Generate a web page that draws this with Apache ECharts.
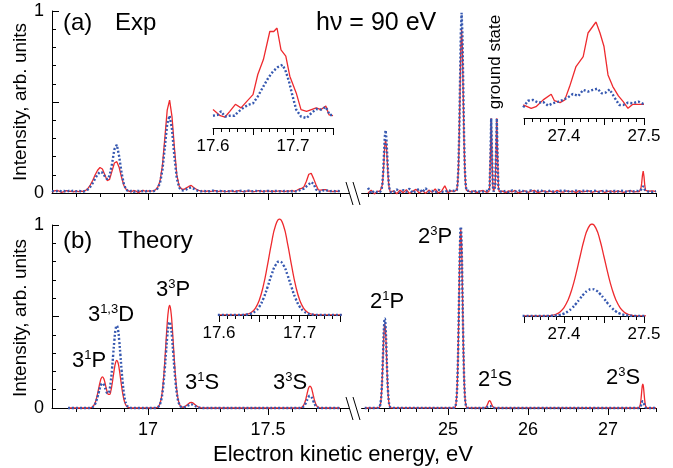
<!DOCTYPE html>
<html>
<head>
<meta charset="utf-8">
<script src="https://cdn.jsdelivr.net/npm/echarts@6.0.0/dist/echarts.min.js"></script>
<style>
html, body { margin: 0; padding: 0; background: #fff; }
#chart { width: 673px; height: 468px; }
</style>
</head>
<body>
<div id="chart"></div>
<script>
// ---------- data ----------
// (a) experiment, low-energy segment (3l satellites)
var expLeftE = [
  16.60,16.61,16.62,16.63,16.64,16.65,16.66,16.67,16.68,16.69,
  16.70,16.71,16.72,16.73,16.74,16.75,16.76,16.77,16.78,16.79,
  16.80,16.81,16.82,16.83,16.84,16.85,16.86,16.87,16.88,16.89,
  16.90,16.91,16.92,16.93,16.94,16.95,16.96,16.97,16.98,16.99,
  17.00,17.01,17.02,17.03,17.04,17.05,17.06,17.07,17.08,17.09,
  17.10,17.11,17.12,17.13,17.14,17.15,17.16,17.17,17.18,17.19,
  17.20,17.21,17.22,17.23,17.24,17.25,17.26,17.27,17.28,17.29,
  17.30,17.31,17.32,17.33,17.34,17.35,17.36,17.37,17.38,17.39,
  17.40,17.41,17.42,17.43,17.44,17.45,17.46,17.47,17.48,17.49,
  17.50,17.51,17.52,17.53,17.54,17.55,17.56,17.57,17.58,17.59,
  17.60,17.61,17.62,17.63,17.64,17.65,17.66,17.67,17.68,17.69,
  17.70,17.71,17.72,17.73,17.74,17.75,17.76,17.77,17.78,17.79,
  17.80];
var expLeftRed = [
  0.005,0.012,0.015,0.010,0.003,0.008,0.013,0.009,0.010,0.006,
  0.012,0.008,0.010,0.009,0.014,0.025,0.045,0.070,0.100,0.125,
  0.140,0.132,0.100,0.068,0.075,0.120,0.165,0.172,0.140,0.085,
  0.040,0.018,0.010,0.006,0.014,0.010,0.002,0.010,0.015,0.008,
  0.012,0.010,0.012,0.016,0.030,0.065,0.150,0.300,0.455,0.510,
  0.420,0.250,0.100,0.038,0.022,0.020,0.028,0.036,0.042,0.030,
  0.022,0.015,0.012,0.010,0.008,0.012,0.009,0.010,0.013,0.008,
  0.010,0.011,0.007,0.009,0.012,0.010,0.008,0.011,0.013,0.009,
  0.007,0.010,0.012,0.010,0.008,0.009,0.013,0.011,0.008,0.010,
  0.012,0.009,0.011,0.008,0.010,0.013,0.009,0.008,0.012,0.010,
  0.014,0.009,0.015,0.022,0.025,0.034,0.065,0.103,0.108,0.079,
  0.045,0.017,0.016,0.018,0.019,0.010,0.012,0.008,0.011,0.009,
  0.010];
var expLeftBlue = [
  0.012,0.008,0.010,0.013,0.009,0.011,0.007,0.012,0.010,0.013,
  0.009,0.011,0.010,0.008,0.012,0.020,0.035,0.055,0.080,0.102,
  0.116,0.112,0.092,0.075,0.095,0.160,0.240,0.265,0.200,0.110,
  0.045,0.018,0.008,0.012,0.006,0.010,0.012,0.008,0.011,0.009,
  0.012,0.010,0.009,0.014,0.025,0.055,0.125,0.250,0.380,0.425,
  0.350,0.200,0.080,0.030,0.015,0.014,0.020,0.028,0.030,0.024,
  0.016,0.011,0.009,0.012,0.010,0.008,0.011,0.013,0.009,0.010,
  0.012,0.008,0.010,0.011,0.009,0.012,0.010,0.008,0.011,0.012,
  0.009,0.010,0.013,0.009,0.010,0.012,0.008,0.011,0.010,0.009,
  0.012,0.010,0.008,0.011,0.012,0.009,0.010,0.011,0.009,0.010,
  0.010,0.010,0.009,0.014,0.020,0.024,0.036,0.048,0.060,0.050,
  0.020,0.008,0.006,0.014,0.018,0.011,0.010,0.012,0.009,0.011,
  0.010];

// (a) experiment, high-energy segment (2l satellites + ground state)
var expRightE = [
  24.00,24.04,24.08,24.12,
  24.15,24.16,24.17,24.18,24.19,24.20,24.21,24.22,24.23,24.24,24.25,24.26,24.27,24.28,24.29,
  24.32,24.36,24.40,24.44,24.48,24.52,24.56,24.60,24.64,24.68,24.72,24.76,24.80,24.84,24.88,24.92,24.96,25.00,25.04,25.08,
  25.10,25.11,25.12,25.13,25.14,25.15,25.16,25.17,25.18,25.19,25.20,25.21,25.22,25.23,25.24,
  25.28,25.32,25.36,25.40,25.44,25.48,
  25.51,25.52,25.53,25.54,25.55,25.56,25.57,25.58,25.59,25.60,25.61,25.62,25.63,25.64,
  25.68,25.72,25.76,25.80,25.84,25.88,25.92,25.96,
  26.00,26.04,26.08,26.12,26.16,26.20,26.24,26.28,26.32,26.36,26.40,26.44,26.48,
  26.52,26.56,26.60,26.64,26.68,26.72,26.76,26.80,26.84,26.88,26.92,26.96,
  27.00,27.04,27.08,27.12,27.16,27.20,27.24,27.28,27.32,27.36,
  27.39,27.40,27.41,27.42,27.43,27.44,27.45,27.46,27.47,27.48,27.50,
  27.52,27.56,27.60];
var expRightRed = [
  0.000,0.015,-0.005,0.010,
  0.008,0.012,0.018,0.045,0.100,0.180,0.262,0.290,0.255,0.182,0.098,0.042,0.020,0.004,0.010,
  0.012,-0.004,0.015,0.002,0.018,-0.003,0.010,0.020,0.000,0.014,-0.002,0.016,0.004,0.022,0.000,0.010,0.040,0.002,0.012,0.008,
  0.008,0.018,0.048,0.128,0.298,0.548,0.795,0.900,0.795,0.548,0.298,0.128,0.045,0.016,0.006,
  0.006,0.012,0.002,0.010,0.014,0.004,
  0.008,0.030,0.200,0.410,0.220,0.040,0.010,0.012,0.040,0.220,0.410,0.200,0.030,0.008,
  0.010,0.002,0.012,0.006,0.014,0.000,0.008,0.012,
  0.004,0.010,0.015,0.002,0.008,0.012,0.006,0.010,0.003,0.014,0.008,0.005,0.012,
  0.007,0.010,0.002,0.013,0.006,0.009,0.012,0.004,0.010,0.007,0.013,0.003,
  0.009,0.011,0.005,0.012,0.008,0.004,0.010,0.013,0.006,0.008,
  0.008,0.012,0.022,0.050,0.095,0.120,0.090,0.040,0.015,0.006,0.010,
  0.004,0.012,0.008];
var expRightBlue = [
  0.028,-0.002,0.012,0.004,
  0.006,0.010,0.020,0.052,0.118,0.215,0.308,0.345,0.300,0.212,0.118,0.050,0.018,0.012,0.002,
  0.004,0.020,0.002,0.016,0.006,0.024,0.000,0.012,0.022,0.004,0.026,0.006,0.012,0.002,0.018,0.008,0.004,0.016,0.010,0.012,
  0.006,0.016,0.050,0.138,0.325,0.605,0.875,0.990,0.875,0.605,0.325,0.138,0.048,0.014,0.010,
  0.010,0.004,0.014,0.006,0.008,0.012,
  0.010,0.028,0.190,0.410,0.215,0.038,0.008,0.014,0.036,0.210,0.410,0.195,0.028,0.010,
  0.006,0.012,0.004,0.014,0.008,0.010,0.016,0.004,
  0.010,0.014,0.006,0.011,0.015,0.005,0.009,0.013,0.008,0.004,0.012,0.010,0.015,
  0.006,0.009,0.013,0.004,0.011,0.014,0.007,0.010,0.012,0.005,0.009,0.014,
  0.010,0.006,0.012,0.008,0.013,0.010,0.005,0.011,0.009,0.012,
  0.010,0.008,0.015,0.022,0.032,0.038,0.030,0.018,0.010,0.012,0.008,
  0.012,0.006,0.010];

// (a) insets: 3^3S (left) and 2^3S (right), normalised to the red maximum
var insExpLeftRed = [
  [17.600,0.07],[17.609,0.00],[17.615,-0.015],[17.621,0.05],[17.628,0.13],[17.635,0.09],
  [17.642,0.16],[17.650,0.24],[17.656,0.47],[17.663,0.64],[17.671,0.96],[17.676,0.96],
  [17.680,1.00],[17.685,0.75],[17.691,0.68],[17.696,0.45],[17.704,0.26],[17.710,0.07],
  [17.717,0.05],[17.723,0.07],[17.729,0.09],[17.735,0.07],[17.741,0.11],[17.745,0.01],[17.750,0.00]];
var insExpLeftBlue = [
  [17.600,0.00],[17.606,0.01],[17.610,0.05],[17.615,-0.01],[17.621,0.00],[17.627,0.00],
  [17.631,0.04],[17.638,0.09],[17.644,0.125],[17.650,0.14],[17.656,0.22],[17.663,0.335],
  [17.669,0.43],[17.675,0.505],[17.681,0.555],[17.687,0.58],[17.691,0.505],[17.695,0.39],
  [17.699,0.24],[17.704,0.07],[17.710,-0.01],[17.717,-0.027],[17.723,0.03],[17.729,0.076],
  [17.735,0.07],[17.741,0.10],[17.746,0.008],[17.750,0.008]];
var insExpRightRed = [
  [27.349,0.02],[27.359,-0.02],[27.365,0.00],[27.374,0.08],[27.384,0.146],[27.388,0.07],
  [27.395,0.047],[27.401,0.08],[27.407,0.237],[27.415,0.474],[27.424,0.59],[27.430,0.87],
  [27.440,1.00],[27.445,0.87],[27.450,0.71],[27.455,0.375],[27.461,0.237],[27.468,0.127],
  [27.474,0.06],[27.480,-0.02],[27.486,0.028],[27.493,0.028],[27.500,0.028]];
var insExpRightBlue = [
  [27.349,-0.008],[27.355,0.07],[27.361,0.08],[27.368,0.047],[27.374,0.055],[27.380,0.012],
  [27.386,0.04],[27.393,0.06],[27.399,0.08],[27.405,0.11],[27.411,0.15],[27.418,0.126],
  [27.424,0.198],[27.430,0.178],[27.436,0.198],[27.442,0.213],[27.447,0.158],[27.452,0.166],
  [27.457,0.205],[27.463,0.11],[27.469,0.02],[27.474,0.02],[27.480,0.047],[27.486,0.04],
  [27.493,0.06],[27.500,0.028]];

// (b) theory, low-energy segment
var thLeftE = [16.667,
  16.750,16.755,16.760,16.765,16.770,16.775,16.780,16.785,16.790,16.795,
  16.800,16.805,16.810,16.815,16.820,16.825,16.830,16.835,16.840,16.845,
  16.850,16.855,16.860,16.865,16.870,16.875,16.880,16.885,16.890,16.895,
  16.900,16.905,16.910,16.915,16.920,16.925,16.930,
  17.030,17.035,17.040,17.045,17.050,17.055,17.060,17.065,17.070,17.075,
  17.080,17.085,17.090,17.095,17.100,17.105,17.110,17.115,17.120,17.125,
  17.130,17.135,17.140,17.145,17.150,17.155,17.160,17.165,17.170,17.175,
  17.180,17.185,17.190,17.195,17.200,17.205,17.210,17.215,17.220,17.225,17.230,
  17.625,17.630,17.635,17.640,17.645,17.650,17.655,17.660,17.665,17.670,
  17.675,17.680,17.685,17.690,17.695,17.700,17.705,17.710,17.715,17.720,17.725,
  17.800];
var thLeftRed = [0,
  0.000,0.000,0.001,0.003,0.008,0.016,0.029,0.050,0.078,0.110,
  0.140,0.162,0.170,0.163,0.142,0.114,0.089,0.074,0.074,0.092,
  0.127,0.171,0.215,0.248,0.260,0.248,0.214,0.167,0.119,0.077,
  0.045,0.024,0.011,0.005,0.002,0.001,0.000,
  0.001,0.002,0.004,0.011,0.025,0.051,0.096,0.165,0.256,0.361,
  0.461,0.533,0.560,0.533,0.461,0.361,0.256,0.165,0.096,0.051,
  0.025,0.011,0.006,0.004,0.006,0.009,0.014,0.019,0.025,0.029,
  0.030,0.029,0.025,0.019,0.014,0.009,0.005,0.003,0.001,0.001,0.000,
  0.0001,0.0003,0.0011,0.0032,0.0084,0.0188,0.0367,0.0617,0.0893,0.1115,
  0.1200,0.1115,0.0893,0.0617,0.0367,0.0188,0.0084,0.0032,0.0011,0.0003,0.0001,
  0];
var thLeftBlue = [0,
  0.000,0.000,0.001,0.003,0.006,0.012,0.023,0.040,0.062,0.087,
  0.111,0.129,0.135,0.130,0.114,0.096,0.082,0.081,0.101,0.145,
  0.212,0.292,0.371,0.429,0.450,0.428,0.370,0.290,0.206,0.133,
  0.077,0.041,0.020,0.009,0.003,0.001,0.000,
  0.000,0.001,0.004,0.009,0.021,0.043,0.081,0.139,0.215,0.303,
  0.387,0.447,0.470,0.447,0.387,0.303,0.215,0.139,0.081,0.043,
  0.021,0.009,0.005,0.003,0.004,0.006,0.009,0.013,0.016,0.019,
  0.020,0.019,0.016,0.013,0.009,0.006,0.003,0.002,0.001,0.000,0.000,
  0.0000,0.0002,0.0006,0.0018,0.0047,0.0105,0.0205,0.0344,0.0498,0.0622,
  0.0670,0.0622,0.0498,0.0344,0.0205,0.0105,0.0047,0.0018,0.0006,0.0002,0.0000,
  0];

// (b) theory, high-energy segment
var thRightE = [23.96,
  24.13,24.14,24.15,24.16,24.17,24.18,24.19,24.20,24.21,24.22,24.23,24.24,24.25,24.26,24.27,24.28,24.29,
  25.08,25.09,25.10,25.11,25.12,25.13,25.14,25.15,25.16,25.17,25.18,25.19,25.20,25.21,25.22,25.23,25.24,
  25.46,25.47,25.48,25.49,25.50,25.51,25.52,25.53,25.54,25.55,25.56,25.57,25.58,
  27.375,27.380,27.385,27.390,27.395,27.400,27.405,27.410,27.415,27.420,27.425,27.430,27.435,
  27.440,27.445,27.450,27.455,27.460,27.465,27.470,27.475,27.480,27.485,27.490,27.495,
  27.60];
var thRightRed = [0,
  0.0006,0.003,0.011,0.035,0.088,0.182,0.304,0.415,0.460,0.415,0.304,0.182,0.088,0.035,0.011,0.003,0.0006,
  0.001,0.006,0.024,0.074,0.187,0.387,0.648,0.884,0.980,0.884,0.648,0.387,0.187,0.074,0.024,0.006,0.001,
  0.001,0.003,0.008,0.016,0.026,0.036,0.040,0.036,0.026,0.016,0.008,0.003,0.001,
  0.0001,0.0004,0.0010,0.0025,0.0057,0.0119,0.0224,0.0384,0.0595,0.0837,0.1070,0.1238,0.1300,
  0.1238,0.1070,0.0837,0.0595,0.0384,0.0224,0.0119,0.0057,0.0025,0.0010,0.0004,0.0001,
  0];
var thRightBlue = [0,
  0.0006,0.003,0.012,0.037,0.094,0.194,0.324,0.442,0.490,0.442,0.324,0.194,0.094,0.037,0.012,0.003,0.0006,
  0.001,0.006,0.024,0.075,0.189,0.391,0.654,0.893,0.990,0.893,0.654,0.391,0.189,0.075,0.024,0.006,0.001,
  0.000,0.001,0.002,0.005,0.008,0.011,0.012,0.011,0.008,0.005,0.002,0.001,0.000,
  0.0000,0.0001,0.0003,0.0007,0.0017,0.0035,0.0065,0.0112,0.0174,0.0245,0.0313,0.0362,0.0380,
  0.0362,0.0313,0.0245,0.0174,0.0112,0.0065,0.0035,0.0017,0.0007,0.0003,0.0001,0.0000,
  0];

// tick values
var leftMajor = [17, 17.5];
var leftMinor = [16.7, 16.8, 16.9, 17.1, 17.2, 17.3, 17.4, 17.6, 17.7, 17.8];
var rightMajor = [25, 26, 27];
var rightMinor = [24.0, 24.2, 24.4, 24.6, 24.8, 25.2, 25.4, 25.6, 25.8, 26.2, 26.4, 26.6, 26.8, 27.2, 27.4, 27.6];
var insLMajor = [17.6, 17.65, 17.7, 17.75];
var insLLabels = [17.6, 17.7];
var insLMinor = [17.61, 17.62, 17.63, 17.64, 17.66, 17.67, 17.68, 17.69, 17.71, 17.72, 17.73, 17.74];
var insRMajor = [27.35, 27.4, 27.45, 27.5];
var insRLabels = [27.4, 27.5];
var insRMinor = [27.36, 27.37, 27.38, 27.39, 27.41, 27.42, 27.43, 27.44, 27.46, 27.47, 27.48, 27.49];
var yMajor = [0, 0.5, 1];
var yMinor = [0.1, 0.2, 0.3, 0.4, 0.6, 0.7, 0.8, 0.9];
var yLabels = [0, 1];

// ---------- chart ----------
var RED = '#ee2a2e';
var BLUE = '#3658b0';
var FONT = '"Liberation Sans", Arial, Helvetica, sans-serif';

function zip(xs, ys) {
  return xs.map(function (x, i) { return [x, ys[i]]; });
}

var grids = [
  {left: 52, top: 11, width: 297.6, height: 182},      // 0 (a) left
  {left: 361.6, top: 11, width: 294.4, height: 182},   // 1 (a) right
  {left: 52, top: 225, width: 297.6, height: 183},     // 2 (b) left
  {left: 361.6, top: 225, width: 294.4, height: 183},  // 3 (b) right
  {left: 213, top: 28, width: 120, height: 100},       // 4 inset (a) left
  {left: 524, top: 22, width: 120, height: 96},        // 5 inset (a) right
  {left: 219, top: 219, width: 121, height: 96},       // 6 inset (b) left
  {left: 524, top: 224, width: 120, height: 92}        // 7 inset (b) right
];
grids.forEach(function (g) { g.outerBoundsMode = 'none'; g.containLabel = false; });

var xRanges = [[16.6, 17.84], [23.92, 27.6], [16.6, 17.84], [23.92, 27.6],
               [17.6, 17.75], [27.35, 27.5], [17.6, 17.75], [27.35, 27.5]];
var yRanges = [[0, 1], [0, 1], [0, 1], [0, 1],
               [-0.14, 1], [-0.134, 1], [0, 0.12], [0, 0.13]];
var tickSets = [
  [leftMajor, [], leftMinor], [rightMajor, [], rightMinor],
  [leftMajor, leftMajor, leftMinor], [rightMajor, rightMajor, rightMinor],
  [insLMajor, insLLabels, insLMinor], [insRMajor, insRLabels, insRMinor],
  [insLMajor, insLLabels, insLMinor], [insRMajor, insRLabels, insRMinor]
];

var xAxes = [], yAxes = [];
grids.forEach(function (g, i) {
  var inset = i >= 4;
  var t = tickSets[i];
  xAxes.push({
    type: 'value', gridIndex: i, min: xRanges[i][0], max: xRanges[i][1], position: 'bottom',
    axisLine: {show: true, onZero: false, lineStyle: {color: '#000', width: 1}},
    axisTick: {show: true, inside: false, length: 7, customValues: t[0], lineStyle: {color: '#000', width: 1}},
    axisLabel: {show: t[1].length > 0, customValues: t[1], color: '#000',
      fontSize: inset ? 17 : 18, fontFamily: FONT, margin: inset ? 10 : 13},
    splitLine: {show: false}
  });
});
grids.forEach(function (g, i) {
  var t = tickSets[i];
  xAxes.push({
    type: 'value', gridIndex: i, min: xRanges[i][0], max: xRanges[i][1], position: 'bottom',
    axisLine: {show: false, onZero: false},
    axisTick: {show: true, inside: false, length: 4, customValues: t[2], lineStyle: {color: '#000', width: 1}},
    axisLabel: {show: false},
    splitLine: {show: false}
  });
});
grids.forEach(function (g, i) {
  var main = (i === 0 || i === 2);
  yAxes.push({
    type: 'value', gridIndex: i, min: yRanges[i][0], max: yRanges[i][1], show: main, position: 'left',
    axisLine: {show: main, onZero: false, lineStyle: {color: '#000', width: 1}},
    axisTick: {show: main, inside: true, length: 7, customValues: yMajor, lineStyle: {color: '#000', width: 1}},
    axisLabel: {show: main, customValues: yLabels, color: '#000', fontSize: 18, fontFamily: FONT, margin: 8},
    splitLine: {show: false}
  });
});
[0, 2].forEach(function (gi) {
  yAxes.push({
    type: 'value', gridIndex: gi, min: 0, max: 1, position: 'left',
    axisLine: {show: false, onZero: false},
    axisTick: {show: true, inside: true, length: 4, customValues: yMinor, lineStyle: {color: '#000', width: 1}},
    axisLabel: {show: false},
    splitLine: {show: false}
  });
});

function redLine(gi, data, opts) {
  return Object.assign({
    type: 'line', xAxisIndex: gi, yAxisIndex: gi, data: data, symbol: 'none',
    lineStyle: {color: RED, width: 1.3}, clip: gi >= 4, z: 2, silent: true
  }, opts || {});
}
function blueLine(gi, data, opts) {
  return Object.assign({
    type: 'line', xAxisIndex: gi, yAxisIndex: gi, data: data, symbol: 'none',
    lineStyle: {color: BLUE, width: 2.4, type: [2, 2]}, clip: gi >= 4, z: 3, silent: true
  }, opts || {});
}
var smoothOpt = {smooth: 0.5};

var series = [
  redLine(0, zip(expLeftE, expLeftRed)), blueLine(0, zip(expLeftE, expLeftBlue)),
  redLine(1, zip(expRightE, expRightRed)), blueLine(1, zip(expRightE, expRightBlue)),
  redLine(2, zip(thLeftE, thLeftRed), smoothOpt), blueLine(2, zip(thLeftE, thLeftBlue), smoothOpt),
  redLine(3, zip(thRightE, thRightRed), smoothOpt), blueLine(3, zip(thRightE, thRightBlue), smoothOpt),
  redLine(4, insExpLeftRed), blueLine(4, insExpLeftBlue),
  redLine(5, insExpRightRed), blueLine(5, insExpRightBlue),
  redLine(6, zip(thLeftE, thLeftRed), smoothOpt), blueLine(6, zip(thLeftE, thLeftBlue), smoothOpt),
  redLine(7, zip(thRightE, thRightRed), smoothOpt), blueLine(7, zip(thRightE, thRightBlue), smoothOpt)
];

function txt(x, y, text, size, extra) {
  return Object.assign({
    type: 'text', x: x, y: y, silent: true,
    style: {text: text, fontSize: size, fontFamily: FONT, fill: '#000', align: 'left', verticalAlign: 'middle'}
  }, extra || {});
}
function rtxt(x, y, text, size) {
  return {
    type: 'text', x: x, y: y, silent: true, rotation: Math.PI / 2,
    style: {text: text, fontSize: size, fontFamily: FONT, fill: '#000', align: 'center', verticalAlign: 'middle'}
  };
}
function lvl(x, y, n, sup, letter) {
  return {
    type: 'text', x: x, y: y, silent: true,
    style: {
      text: '{n|' + n + '}{s|' + sup + '}{n|' + letter + '}',
      align: 'center', verticalAlign: 'middle', fill: '#000',
      rich: {
        n: {fontSize: 22, fontFamily: FONT, fill: '#000', lineHeight: 24},
        s: {fontSize: 13, fontFamily: FONT, fill: '#000', lineHeight: 13, verticalAlign: 'top'}
      }
    }
  };
}
function brk(x, yc) {
  return [
    {type: 'line', silent: true, shape: {x1: x, y1: yc - 11, x2: x + 7, y2: yc + 12}, style: {stroke: '#000', lineWidth: 1}},
    {type: 'line', silent: true, shape: {x1: x + 7, y1: yc - 11, x2: x + 14, y2: yc + 12}, style: {stroke: '#000', lineWidth: 1}}
  ];
}

var graphics = [
  txt(63, 23, '(a)', 24), txt(115, 23, 'Exp', 24),
  txt(316, 23, 'h\u03bd = 90 eV', 25),
  rtxt(495, 62, 'ground state', 17),
  txt(63, 241, '(b)', 24), txt(118, 241, 'Theory', 24),
  rtxt(21, 102, 'Intensity, arb. units', 19),
  rtxt(21, 318, 'Intensity, arb. units', 19),
  txt(343, 455, 'Electron kinetic energy, eV', 22, {style: {text: 'Electron kinetic energy, eV', fontSize: 22, fontFamily: FONT, fill: '#000', align: 'center', verticalAlign: 'middle'}}),
  lvl(89, 361, '3', '1', 'P'),
  lvl(111, 315, '3', '1,3', 'D'),
  lvl(173, 290, '3', '3', 'P'),
  lvl(202, 383, '3', '1', 'S'),
  lvl(290, 383, '3', '3', 'S'),
  lvl(387, 302, '2', '1', 'P'),
  lvl(435, 237, '2', '3', 'P'),
  lvl(495, 380, '2', '1', 'S'),
  lvl(623, 378, '2', '3', 'S')
].concat(brk(346, 193), brk(346, 408));

var chart = echarts.init(document.getElementById('chart'), null, {renderer: 'canvas'});
chart.setOption({
  backgroundColor: '#fff',
  animation: false,
  grid: grids,
  xAxis: xAxes,
  yAxis: yAxes,
  series: series,
  graphic: {elements: graphics}
});
</script>
</body>
</html>
